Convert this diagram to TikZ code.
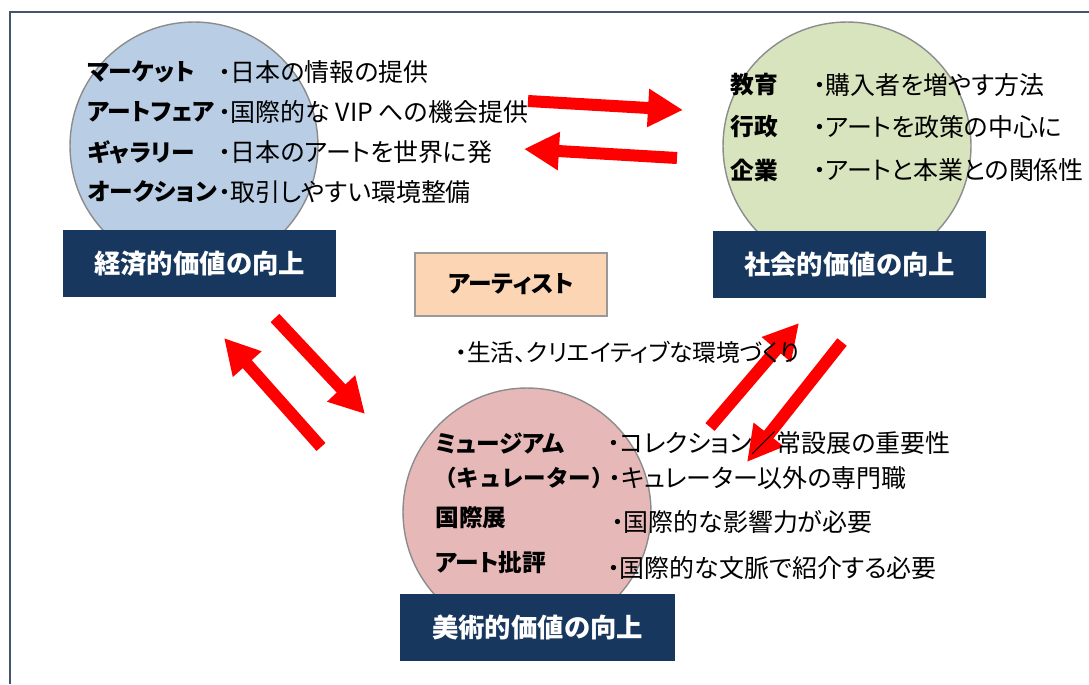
\documentclass[tikz,border=0pt]{standalone}
\usepackage{fontspec}
\setmainfont{Noto Sans CJK JP}[RawFeature=+palt]
\usetikzlibrary{arrows.meta}

\definecolor{framegray}{HTML}{44546A}
\definecolor{econblue}{HTML}{B9CDE5}
\definecolor{socgreen}{HTML}{D7E4BD}
\definecolor{artpink}{HTML}{E6B9B8}
\definecolor{valuenavy}{HTML}{17375E}
\definecolor{artistpeach}{HTML}{FCD5B5}

\tikzset{
  valuecircle/.style={circle, draw=black!45, line width=0.8pt, minimum size=4.96cm, inner sep=0pt},
  valuebox/.style={rectangle, fill=valuenavy, text=white, inner sep=0pt,
    minimum height=1.34cm, font=\bfseries\fontsize{15}{18}\selectfont},
  grouplabel/.style={anchor=west, inner sep=0pt, font=\bfseries\fontsize{13.5}{16}\selectfont},
  itemtext/.style={anchor=west, inner sep=0pt, font=\fontsize{14.2}{17}\selectfont},
  redarrow/.style={draw=red, line width=0.24cm, -{Triangle[length=0.7cm,width=0.72cm]}}
}

\begin{document}
\begin{tikzpicture}[x=0.02cm, y=-0.02cm]
  \useasboundingbox (0,0) rectangle (1089,684);
  \draw[framegray, line width=0.8pt] (10,684) -- (10,12) -- (1089,12);

  % circles
  \node[valuecircle, fill=econblue]  (econcircle) at (194,146) {};
  \node[valuecircle, fill=socgreen]  (soccircle)  at (847,146) {};
  \node[valuecircle, fill=artpink]   (artcircle)  at (527,512) {};

  % value boxes
  \node[valuebox, minimum width=5.46cm] (econ) at (199.5,263.5) {経済的価値の向上};
  \node[valuebox, minimum width=5.46cm] (soc)  at (849.5,264.5) {社会的価値の向上};
  \node[valuebox, minimum width=5.5cm]  (art)  at (537.5,627.5) {美術的価値の向上};

  \node[rectangle, draw=black!40, line width=0.8pt, fill=artistpeach, inner sep=0pt,
    minimum width=3.84cm, minimum height=1.26cm,
    font=\bfseries\fontsize{13.5}{16}\selectfont] (artist) at (511,284.5) {アーティスト};

  % arrows
  \coordinate (econsocA) at (528,101);
  \coordinate (econsocB) at (683,110);
  \coordinate (soceconA) at (677,158);
  \coordinate (soceconB) at (524,149);
  \coordinate (econartA) at (275,318);
  \coordinate (econartB) at (365,414);
  \coordinate (arteconA) at (321,447);
  \coordinate (arteconB) at (224,338);
  \coordinate (artsocA)  at (710,427);
  \coordinate (artsocB)  at (799,323);
  \coordinate (socartA)  at (842,342);
  \coordinate (socartB)  at (747,462);
  \draw[redarrow] (econsocA) -- (econsocB);
  \draw[redarrow] (soceconA) -- (soceconB);
  \draw[redarrow] (econartA) -- (econartB);
  \draw[redarrow] (arteconA) -- (arteconB);
  \draw[redarrow] (artsocA) -- (artsocB);
  \draw[redarrow] (socartA) -- (socartB);

  % economic
  \node[grouplabel] (market)  at (87,72)  {マーケット};
  \node[grouplabel] (fair)    at (87,112) {アートフェア};
  \node[grouplabel] (gallery) at (87,152) {ギャラリー};
  \node[grouplabel] (auction) at (87,192) {オークション};
  \node[itemtext] (marketitem)  at (218,72)  {・日本の情報の提供};
  \node[itemtext] (fairitem)    at (218,112) {・国際的な VIP への機会提供};
  \node[itemtext] (galleryitem) at (218,152) {・日本のアートを世界に発};
  \node[itemtext] (auctionitem) at (218,192) {・取引しやすい環境整備};

  % social
  \node[grouplabel] (edu)   at (730,85)  {教育};
  \node[grouplabel] (admin) at (730,127) {行政};
  \node[grouplabel] (corp)  at (730,170) {企業};
  \node[itemtext] (eduitem)   at (813,85)  {・購入者を増やす方法};
  \node[itemtext] (adminitem) at (813,127) {・アートを政策の中心に};
  \node[itemtext] (corpitem)  at (813,170) {・アートと本業との関係性};

  % artist
  \node[itemtext, font=\fontsize{13.5}{16}\selectfont] (artistitem) at (455,352) {・生活、クリエイティブな環境づくり};

  % art
  \node[grouplabel] (museum)  at (435,443) {ミュージアム};
  \node[grouplabel, font=\bfseries\fontsize{12.8}{16}\selectfont] (curator) at (434,478)
    {\addfontfeature{RawFeature=-palt}（キュレーター）};
  \node[grouplabel] (expo)    at (435,518) {国際展};
  \node[grouplabel] (critic)  at (435,562) {アート批評};
  \node[itemtext] (museumitem)  at (607,443) {・コレクション／常設展の重要性};
  \node[itemtext] (curatoritem) at (608,478) {・キュレーター以外の専門職};
  \node[itemtext] (expoitem)    at (611,522) {・国際的な影響力が必要};
  \node[itemtext] (criticitem)  at (607,568) {・国際的な文脈で紹介する必要};
\end{tikzpicture}
\end{document}
